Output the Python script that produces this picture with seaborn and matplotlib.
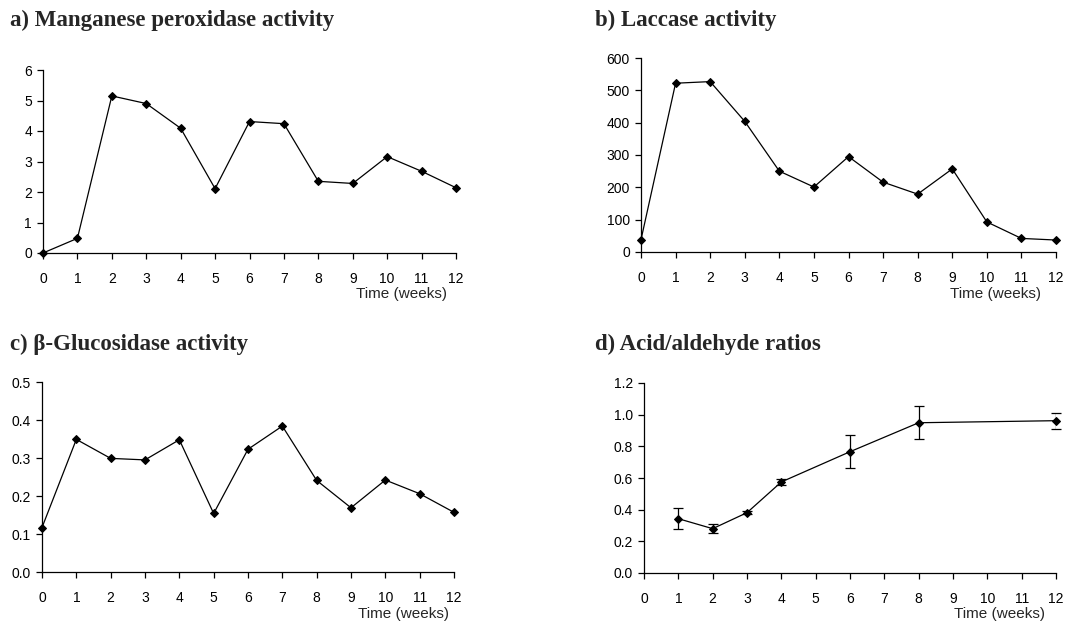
import numpy as np
import pandas as pd
import matplotlib
matplotlib.use("Agg")
import matplotlib.pyplot as plt
import seaborn as sns

sns.set_theme(style="white")
plt.rcParams['font.family'] = ['Liberation Sans', 'DejaVu Sans']

weeks = list(range(13))
mnp = [0.0, 0.48, 5.15, 4.9, 4.09, 2.11, 4.31, 4.24, 2.35, 2.28, 3.16, 2.68, 2.14]
laccase = [38, 522, 527, 404, 250, 201, 295, 216, 179, 257, 93, 42, 37]
glucosidase = [0.117, 0.349, 0.299, 0.295, 0.348, 0.154, 0.323, 0.384, 0.241, 0.169, 0.242, 0.206, 0.157]
ratio_weeks = [1, 2, 3, 4, 6, 8, 12]
ratio = [0.343, 0.280, 0.381, 0.575, 0.766, 0.949, 0.962]
ratio_err = [0.066, 0.030, 0.010, 0.019, 0.103, 0.103, 0.051]

titles = ["a) Manganese peroxidase activity", "b) Laccase activity",
          "c) \u03b2-Glucosidase activity", "d) Acid/aldehyde ratios"]
xlabel = "Time (weeks)"

W, H = 1079, 622
fig = plt.figure(figsize=(W / 100, H / 100), dpi=100)

def px_axes(l, r, t, b):
    return fig.add_axes([l / W, (H - b) / H, (r - l) / W, (b - t) / H])

axes_px = [(43, 456, 70, 253), (641, 1056, 58, 252), (42, 454, 382, 572), (644, 1056, 383, 573)]
axs = [px_axes(*p) for p in axes_px]

line_kw = dict(color="black", linewidth=0.9, marker="D", markersize=4.5,
               markeredgecolor="black", markerfacecolor="black")

sns.lineplot(x=weeks, y=mnp, ax=axs[0], **line_kw)
sns.lineplot(x=weeks, y=laccase, ax=axs[1], **line_kw)
sns.lineplot(x=weeks, y=glucosidase, ax=axs[2], **line_kw)
sns.lineplot(x=ratio_weeks, y=ratio, ax=axs[3], **line_kw)
axs[3].errorbar(ratio_weeks, ratio, yerr=ratio_err, fmt="none", ecolor="black",
                elinewidth=0.9, capsize=3.5, capthick=0.9)

ylims = [(0, 6, 1, "{:.0f}"), (0, 600, 100, "{:.0f}"), (0, 0.5, 0.1, "{:.1f}"), (0, 1.2, 0.2, "{:.1f}")]
for ax, (lo, hi, st, fmt) in zip(axs, ylims):
    ax.set_xlim(0, 12)
    ax.set_ylim(lo, hi)
    yt = np.arange(lo, hi + st / 2, st)
    ax.set_yticks(yt)
    ax.set_yticklabels([fmt.format(v) for v in yt])
    ax.set_xticks(weeks)
    ax.set_xticklabels([str(w) for w in weeks])
    for s in ["top", "right"]:
        ax.spines[s].set_visible(False)
    for s in ["left", "bottom"]:
        ax.spines[s].set_color("black")
        ax.spines[s].set_linewidth(0.9)
    ax.tick_params(axis="both", direction="out", length=4, width=0.9, color="black",
                   labelsize=10, labelcolor="black", left=True, bottom=True)
    ax.tick_params(axis="x", pad=10)
    ax.tick_params(axis="y", pad=4)
    for l in ax.lines:
        l.set_clip_on(False)

# titles
title_pos = [(10, 20), (595, 20), (10, 344), (595, 344)]
for t, (x, y) in zip(titles, title_pos):
    fig.text(x / W, 1 - y / H, t, fontsize=16.5, fontweight="bold",
             family=["Liberation Serif", "DejaVu Serif"], ha="left", va="center")

xl_pos = [(402, 294), (996, 294), (404, 614), (1000, 614)]
for x, y in xl_pos:
    fig.text(x / W, 1 - y / H, xlabel, fontsize=11, ha="center", va="center")

fig.savefig("out.png", dpi=100, facecolor="white")
